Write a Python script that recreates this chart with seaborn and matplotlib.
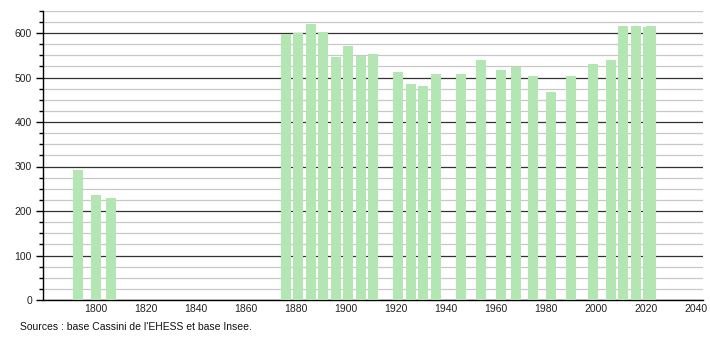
import matplotlib
matplotlib.use("Agg")
import matplotlib.pyplot as plt
from matplotlib.ticker import MultipleLocator
import seaborn as sns
import pandas as pd

years = [1793, 1800, 1806, 1876, 1881, 1886, 1891, 1896, 1901, 1906, 1911,
         1921, 1926, 1931, 1936, 1946, 1954, 1962, 1968, 1975, 1982, 1990,
         1999, 2006, 2011, 2016, 2021, 2022]
population = [292, 236, 229, 598, 600, 620, 602, 546, 571, 549, 553,
              512, 485, 481, 508, 508, 539, 517, 524, 503, 467, 503,
              530, 539, 616, 616, 613, 616]
x_ticks = [1800, 1820, 1840, 1860, 1880, 1900, 1920, 1940, 1960, 1980, 2000, 2020, 2040]
y_ticks = [0, 100, 200, 300, 400, 500, 600]
source_text = "Sources : base Cassini de l'EHESS et base Insee."

df = pd.DataFrame({"year": years, "pop": population})

sns.set_theme(style="white")
plt.rcParams["font.family"] = ["Liberation Sans", "DejaVu Sans"]

fig = plt.figure(figsize=(7.1, 3.4), dpi=100)
ax = fig.add_axes([43 / 710, 1 - 300 / 340, 660 / 710, 289.25 / 340])

sns.barplot(data=df, x="year", y="pop", native_scale=True, width=4,
            color="#b3e6b3", saturation=1, edgecolor="none", linewidth=0,
            errorbar=None, ax=ax, zorder=3)

ax.set_xlim(1779, 2042.8)
ax.set_ylim(0, 650)
ax.set_xticks(x_ticks)
ax.set_xticklabels([str(t) for t in x_ticks])
ax.set_yticks(y_ticks)
ax.set_yticklabels([str(t) for t in y_ticks])
ax.yaxis.set_minor_locator(MultipleLocator(25))
ax.set_xlabel("")
ax.set_ylabel("")

ax.grid(False)
ax.set_axisbelow(True)
ax.yaxis.grid(True, which="major", color="#333333", linewidth=0.9, zorder=0)
ax.yaxis.grid(True, which="minor", color="#c8c8c8", linewidth=0.9, zorder=0)

for s in ["top", "right"]:
    ax.spines[s].set_visible(False)
for s in ["left", "bottom"]:
    ax.spines[s].set_visible(True)
    ax.spines[s].set_color("black")
    ax.spines[s].set_linewidth(1.0)

ax.tick_params(axis="y", which="major", left=True, length=5, width=1,
               color="black", labelsize=7.5, pad=3, direction="out",
               labelcolor="#222222")
ax.tick_params(axis="y", which="minor", left=True, length=3, width=1,
               color="black", direction="out")
ax.tick_params(axis="x", which="both", bottom=False, length=0, labelsize=7.5,
               pad=3, labelcolor="#222222")

fig.text(20 / 710, 1 - 327 / 340, source_text, fontsize=7.5,
         ha="left", va="center", color="#111111")

fig.savefig("out.png", dpi=100, facecolor="white")
